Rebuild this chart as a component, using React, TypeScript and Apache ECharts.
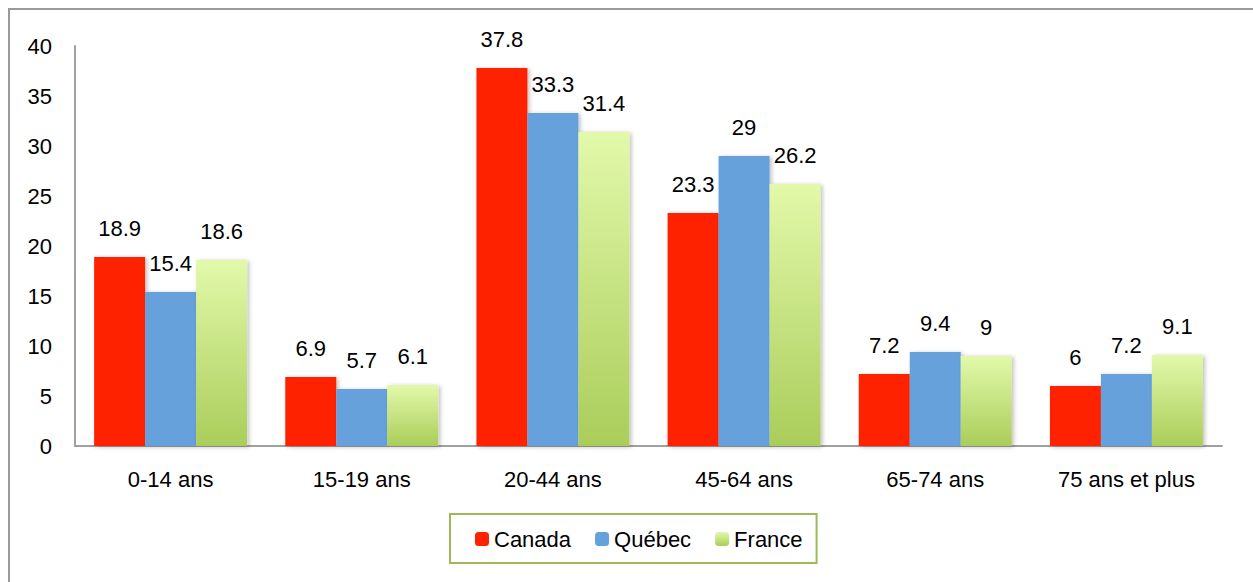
import React, { useEffect, useRef } from "react";
import * as echarts from "echarts";

const categories = ["0-14 ans", "15-19 ans", "20-44 ans", "45-64 ans", "65-74 ans", "75 ans et plus"];
const canada = [18.9, 6.9, 37.8, 23.3, 7.2, 6];
const quebec = [15.4, 5.7, 33.3, 29, 9.4, 7.2];
const france = [18.6, 6.1, 31.4, 26.2, 9, 9.1];
const seriesNames = ["Canada", "Québec", "France"];
const yTicks = { min: 0, max: 40, interval: 5 };

const FONT = "'Liberation Sans', Arial, sans-serif";

export default function App() {
  const ref = useRef<HTMLDivElement>(null);
  useEffect(() => {
    if (!ref.current) return;
    const chart = echarts.init(ref.current, undefined, { renderer: "svg" });
    const label = {
      show: true,
      position: "top" as const,
      distance: 18,
      color: "#000",
      fontSize: 22,
      fontFamily: FONT,
    };
    const shadow = {
      shadowBlur: 4,
      shadowOffsetX: 2,
      shadowOffsetY: 1,
      shadowColor: "rgba(0,0,0,0.25)",
    };
    const greenGrad = new echarts.graphic.LinearGradient(0, 0, 0, 1, [
      { offset: 0, color: "#e2f9aa" },
      { offset: 1, color: "#aacd5a" },
    ]);
    chart.setOption({
      animation: false,
      backgroundColor: "#fff",
      graphic: [
        {
          type: "rect",
          shape: { x: 9, y: 9, width: 1400, height: 700 },
          style: { fill: "none", stroke: "#9a9a9a", lineWidth: 2 },
          silent: true,
          z: -10,
        },
      ],
      grid: { left: 75, right: 31, top: 46, bottom: 136, containLabel: false },
      legend: {
        left: 450,
        top: 514,
        orient: "horizontal",
        itemWidth: 14,
        itemHeight: 14,
        itemGap: 24,
        padding: [14, 14, 13, 25],
        borderColor: "#9bbb59",
        borderWidth: 2,
        backgroundColor: "#fff",
        textStyle: { fontSize: 22, fontFamily: FONT, color: "#000" },
        data: seriesNames.map((n) => ({ name: n, itemStyle: { shadowBlur: 0, shadowOffsetX: 0, shadowOffsetY: 0 } })),
      },
      xAxis: {
        type: "category",
        data: categories,
        axisLine: { lineStyle: { color: "#a0a0a0", width: 2 } },
        axisTick: { show: false },
        axisLabel: { color: "#000", fontSize: 22, fontFamily: FONT, margin: 22 },
      },
      yAxis: {
        type: "value",
        min: yTicks.min,
        max: yTicks.max,
        interval: yTicks.interval,
        axisLine: { show: true, lineStyle: { color: "#a0a0a0", width: 2 } },
        axisTick: { show: false },
        splitLine: { show: false },
        axisLabel: { color: "#000", fontSize: 22, fontFamily: FONT, margin: 23 },
      },
      series: [
        {
          name: seriesNames[0],
          type: "bar",
          data: canada,
          barGap: "0%",
          barCategoryGap: "20%",
          itemStyle: { color: "#ff2200", ...shadow },
          label,
        },
        {
          name: seriesNames[1],
          type: "bar",
          data: quebec,
          barGap: "0%",
          barCategoryGap: "20%",
          itemStyle: { color: "#66a1dc", ...shadow },
          label,
        },
        {
          name: seriesNames[2],
          type: "bar",
          data: france,
          barGap: "0%",
          barCategoryGap: "20%",
          itemStyle: { color: greenGrad, ...shadow },
          label,
        },
      ],
    });
    return () => chart.dispose();
  }, []);
  return (
    <div
      ref={ref}
      style={{ position: "absolute", left: 0, top: 0, width: 1253, height: 582 }}
    />
  );
}
